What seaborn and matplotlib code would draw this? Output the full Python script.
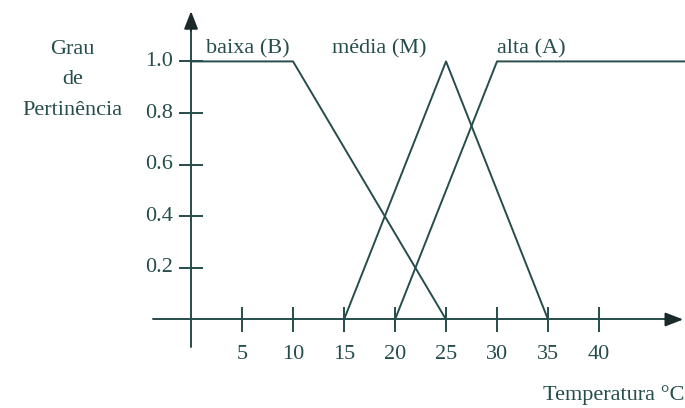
import matplotlib
matplotlib.use("Agg")
import matplotlib.pyplot as plt
import seaborn as sns
import pandas as pd

# Membership functions for temperature (piecewise linear)
baixa_temp = [0, 10, 25]
baixa_mu = [1.0, 1.0, 0.0]
media_temp = [15, 25, 35]
media_mu = [0.0, 1.0, 0.0]
alta_temp = [20, 30, 48.5]
alta_mu = [0.0, 1.0, 1.0]

set_names = ["baixa (B)", "média (M)", "alta (A)"]
x_ticks = [5, 10, 15, 20, 25, 30, 35, 40]
y_ticks = [0.2, 0.4, 0.6, 0.8, 1.0]
y_tick_labels = ["0.2", "0.4", "0.6", "0.8", "1.0"]

df = pd.concat([
    pd.DataFrame({"temp": baixa_temp, "mu": baixa_mu, "conjunto": set_names[0]}),
    pd.DataFrame({"temp": media_temp, "mu": media_mu, "conjunto": set_names[1]}),
    pd.DataFrame({"temp": alta_temp, "mu": alta_mu, "conjunto": set_names[2]}),
], ignore_index=True)

sns.set_theme(style="white")
plt.rcParams["font.family"] = ["Liberation Serif", "DejaVu Serif"]

ink = "#264c4c"
fs = 16

fig = plt.figure(figsize=(6.85, 4.08), dpi=100)
ax = fig.add_axes([0, 0, 1, 1])
ax.set_xlim(-18.73, 48.43)
ax.set_ylim(-0.343, 1.238)
ax.axis("off")

sns.lineplot(data=df, x="temp", y="mu", hue="conjunto", units="conjunto",
             estimator=None, sort=False, palette=[ink] * 3, linewidth=1.4,
             legend=False, ax=ax)

# Axes with arrowheads
ax.plot([-3.7, 47.0], [0, 0], color=ink, lw=1.4)
ax.annotate("", xy=(48.25, 0), xytext=(46.5, 0),
            arrowprops=dict(arrowstyle="-|>,head_length=0.9,head_width=0.35",
                            color="#1a2a2a", lw=1.4, shrinkA=0, shrinkB=0))
ax.plot([0, 0], [-0.107, 1.15], color=ink, lw=1.4)
ax.annotate("", xy=(0, 1.195), xytext=(0, 1.12),
            arrowprops=dict(arrowstyle="-|>,head_length=0.9,head_width=0.35",
                            color="#1a2a2a", lw=1.4, shrinkA=0, shrinkB=0))

# Tick marks crossing the axes
ax.vlines(x_ticks, -0.047, 0.047, color=ink, lw=1.4)
ax.hlines(y_ticks, -1.2, 1.2, color=ink, lw=1.4)

for xt in x_ticks:
    ax.text(xt, -0.137, str(xt), ha="center", va="center", fontsize=fs, color=ink)
for yt, lab in zip(y_ticks, y_tick_labels):
    ax.text(-1.75, yt, lab, ha="right", va="center", fontsize=fs, color=ink)

# Set labels above the curves
ax.text(1.5, 1.05, set_names[0], ha="left", va="center", fontsize=fs, color=ink)
ax.text(13.8, 1.05, set_names[1], ha="left", va="center", fontsize=fs, color=ink)
ax.text(30.0, 1.05, set_names[2], ha="left", va="center", fontsize=fs, color=ink)

# Axis titles
for yy, word in zip([1.048, 0.928, 0.81], ["Grau", "de", "Pertinência"]):
    ax.text(-11.65, yy, word, ha="center", va="center", fontsize=fs, color=ink)
ax.text(48.4, -0.293, "Temperatura °C", ha="right", va="center", fontsize=fs, color=ink)

fig.savefig("out.png", dpi=100)
